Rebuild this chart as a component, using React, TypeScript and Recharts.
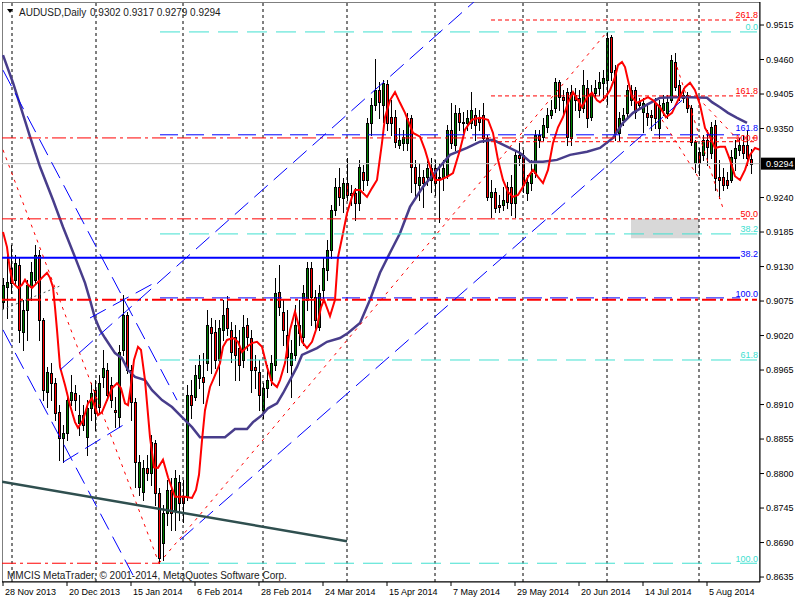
import React from 'react';
import { ComposedChart, Bar, Line, XAxis, YAxis, ReferenceLine, ReferenceArea } from 'recharts';

const FONT = 'Liberation Sans, Arial, sans-serif';

// ---- daily OHLC (AUDUSD, 28 Nov 2013 .. 20 Aug 2014), bar index = position ----
const openP = [0.9074,0.9097,0.9127,0.9108,0.9132,0.9026,0.9061,0.9097,0.9108,0.9148,0.9045,0.8930,0.8960,0.8944,0.8898,0.8856,0.8864,0.8917,0.8928,0.8880,0.8893,0.8858,0.8904,0.8933,0.8906,0.8954,0.8965,0.8941,0.8901,0.8890,0.8997,0.9053,0.8965,0.8914,0.8779,0.8771,0.8809,0.8801,0.8848,0.8769,0.8689,0.8737,0.8774,0.8742,0.8787,0.8763,0.8763,0.8925,0.8922,0.8952,0.8954,0.8976,0.9034,0.9026,0.8981,0.9029,0.9064,0.9029,0.9018,0.9000,0.8981,0.9037,0.9016,0.8970,0.8962,0.8901,0.8936,0.8949,0.8973,0.9090,0.9058,0.9021,0.8973,0.8989,0.9037,0.9018,0.9077,0.9127,0.9082,0.9034,0.9093,0.9124,0.9156,0.9220,0.9257,0.9239,0.9263,0.9247,0.9247,0.9231,0.9281,0.9268,0.9359,0.9387,0.9411,0.9387,0.9421,0.9369,0.9369,0.9324,0.9327,0.9327,0.9367,0.9289,0.9260,0.9273,0.9273,0.9268,0.9287,0.9273,0.9271,0.9276,0.9348,0.9324,0.9374,0.9361,0.9359,0.9359,0.9372,0.9367,0.9372,0.9335,0.9241,0.9249,0.9228,0.9228,0.9257,0.9257,0.9231,0.9308,0.9308,0.9247,0.9263,0.9279,0.9340,0.9337,0.9353,0.9372,0.9382,0.9424,0.9400,0.9408,0.9335,0.9403,0.9398,0.9382,0.9414,0.9369,0.9406,0.9414,0.9422,0.9427,0.9496,0.9443,0.9343,0.9364,0.9374,0.9395,0.9411,0.9392,0.9376,0.9374,0.9372,0.9390,0.9351,0.9379,0.9374,0.9395,0.9456,0.9419,0.9398,0.9403,0.9382,0.9295,0.9313,0.9308,0.9332,0.9311,0.9356,0.9273,0.9273,0.9268,0.9268,0.9303,0.9316,0.9324,0.9324,0.9302];
const highP = [0.9111,0.9151,0.9164,0.9148,0.9143,0.9077,0.9108,0.9137,0.9164,0.9156,0.9048,0.8970,0.8976,0.8952,0.8909,0.8877,0.8925,0.8957,0.8941,0.8925,0.8909,0.8917,0.8944,0.8949,0.8957,0.8997,0.8976,0.8954,0.8922,0.9005,0.9085,0.9058,0.8973,0.8920,0.8829,0.8821,0.8829,0.8861,0.8853,0.8777,0.8750,0.8790,0.8793,0.8806,0.8798,0.8790,0.8941,0.8949,0.8973,0.8989,0.8992,0.9061,0.9048,0.9045,0.9045,0.9077,0.9083,0.9042,0.9037,0.9029,0.9053,0.9048,0.9029,0.8989,0.8981,0.8944,0.8973,0.8989,0.9111,0.9132,0.9077,0.9061,0.9013,0.9069,0.9077,0.9100,0.9137,0.9137,0.9093,0.9100,0.9143,0.9172,0.9228,0.9271,0.9287,0.9271,0.9303,0.9260,0.9255,0.9300,0.9292,0.9367,0.9398,0.9461,0.9424,0.9427,0.9427,0.9395,0.9379,0.9351,0.9348,0.9374,0.9372,0.9300,0.9295,0.9284,0.9300,0.9303,0.9300,0.9295,0.9300,0.9356,0.9390,0.9387,0.9382,0.9376,0.9379,0.9408,0.9382,0.9379,0.9390,0.9340,0.9268,0.9255,0.9244,0.9257,0.9265,0.9276,0.9316,0.9327,0.9316,0.9276,0.9300,0.9348,0.9348,0.9367,0.9382,0.9395,0.9430,0.9427,0.9411,0.9414,0.9419,0.9414,0.9411,0.9443,0.9427,0.9419,0.9427,0.9440,0.9443,0.9504,0.9499,0.9451,0.9376,0.9382,0.9419,0.9419,0.9416,0.9398,0.9398,0.9387,0.9379,0.9398,0.9395,0.9403,0.9403,0.9467,0.9470,0.9427,0.9414,0.9408,0.9387,0.9332,0.9319,0.9340,0.9348,0.9361,0.9364,0.9300,0.9287,0.9281,0.9316,0.9332,0.9335,0.9340,0.9348,0.9317];
const lowP = [0.9064,0.9048,0.9088,0.9100,0.9010,0.8997,0.9013,0.9077,0.9103,0.9013,0.8917,0.8906,0.8917,0.8885,0.8821,0.8818,0.8853,0.8909,0.8901,0.8861,0.8869,0.8829,0.8885,0.8869,0.8896,0.8938,0.8917,0.8906,0.8874,0.8874,0.8989,0.8960,0.8885,0.8779,0.8766,0.8758,0.8790,0.8782,0.8750,0.8657,0.8662,0.8718,0.8710,0.8710,0.8726,0.8723,0.8758,0.8888,0.8917,0.8936,0.8912,0.8965,0.8960,0.8968,0.8941,0.9013,0.9021,0.8978,0.8949,0.8949,0.8970,0.8997,0.8930,0.8936,0.8901,0.8888,0.8922,0.8941,0.8965,0.9053,0.9005,0.8962,0.8922,0.8981,0.9005,0.9005,0.9061,0.9037,0.9029,0.9029,0.9080,0.9108,0.9143,0.9212,0.9228,0.9217,0.9236,0.9228,0.9204,0.9220,0.9252,0.9260,0.9340,0.9379,0.9367,0.9361,0.9348,0.9340,0.9321,0.9319,0.9316,0.9316,0.9249,0.9241,0.9236,0.9225,0.9260,0.9249,0.9244,0.9201,0.9252,0.9271,0.9319,0.9316,0.9348,0.9345,0.9348,0.9351,0.9332,0.9348,0.9329,0.9236,0.9209,0.9217,0.9217,0.9220,0.9223,0.9212,0.9209,0.9292,0.9249,0.9236,0.9252,0.9273,0.9321,0.9332,0.9345,0.9367,0.9376,0.9379,0.9372,0.9324,0.9324,0.9379,0.9369,0.9376,0.9353,0.9364,0.9400,0.9403,0.9395,0.9389,0.9427,0.9332,0.9332,0.9356,0.9367,0.9387,0.9367,0.9382,0.9345,0.9356,0.9348,0.9351,0.9335,0.9372,0.9367,0.9392,0.9411,0.9395,0.9392,0.9376,0.9324,0.9281,0.9276,0.9300,0.9292,0.9303,0.9252,0.9239,0.9252,0.9255,0.9265,0.9284,0.9308,0.9303,0.9292,0.9279];
const closeP = [0.9100,0.9106,0.9103,0.9135,0.9029,0.9061,0.9100,0.9121,0.9148,0.9045,0.8933,0.8962,0.8944,0.8896,0.8856,0.8864,0.8917,0.8930,0.8917,0.8893,0.8877,0.8904,0.8928,0.8896,0.8944,0.8968,0.8925,0.8917,0.8898,0.8994,0.9053,0.8965,0.8914,0.8818,0.8818,0.8809,0.8801,0.8850,0.8769,0.8665,0.8737,0.8774,0.8737,0.8793,0.8753,0.8753,0.8925,0.8909,0.8957,0.8973,0.8946,0.9037,0.9024,0.8981,0.9032,0.9053,0.9032,0.8994,0.8989,0.8973,0.9034,0.9018,0.8965,0.8965,0.8925,0.8936,0.8949,0.8976,0.9088,0.9066,0.9029,0.8986,0.8992,0.9037,0.9024,0.9088,0.9127,0.9082,0.9045,0.9088,0.9127,0.9156,0.9220,0.9257,0.9241,0.9263,0.9244,0.9244,0.9231,0.9289,0.9268,0.9359,0.9387,0.9411,0.9392,0.9422,0.9359,0.9359,0.9329,0.9332,0.9337,0.9367,0.9289,0.9263,0.9273,0.9263,0.9287,0.9287,0.9263,0.9271,0.9287,0.9348,0.9327,0.9374,0.9361,0.9359,0.9367,0.9379,0.9356,0.9361,0.9335,0.9241,0.9249,0.9223,0.9225,0.9236,0.9233,0.9231,0.9308,0.9303,0.9260,0.9265,0.9279,0.9340,0.9332,0.9356,0.9372,0.9379,0.9424,0.9400,0.9395,0.9337,0.9408,0.9395,0.9379,0.9419,0.9367,0.9406,0.9414,0.9424,0.9430,0.9494,0.9440,0.9343,0.9367,0.9372,0.9411,0.9411,0.9376,0.9387,0.9390,0.9369,0.9369,0.9367,0.9387,0.9390,0.9392,0.9459,0.9416,0.9400,0.9403,0.9382,0.9329,0.9329,0.9295,0.9332,0.9321,0.9353,0.9271,0.9268,0.9260,0.9260,0.9305,0.9319,0.9324,0.9311,0.9303,0.9294];

// ---- time axis ----
const xTickIdx = [0, 16, 32, 48, 64, 80, 96, 112, 128, 144, 160, 176];
const xTickLabels = ['28 Nov 2013', '20 Dec 2013', '15 Jan 2014', '6 Feb 2014', '28 Feb 2014', '24 Mar 2014', '15 Apr 2014', '7 May 2014', '29 May 2014', '20 Jun 2014', '14 Jul 2014', '5 Aug 2014'];
const monthGridIdx = [2.25, 23.25, 45, 65, 86, 108, 130, 151, 174];

// ---- price axis ----
const yTicks = [0.8635, 0.8690, 0.8745, 0.8800, 0.8855, 0.8910, 0.8965, 0.9020, 0.9075, 0.9130, 0.9185, 0.9240, 0.9350, 0.9405, 0.9460, 0.9515];
const yDomain = [0.86271, 0.95517];
const lastPrice = 0.9294;

// ---- moving averages (bar index, price) ----
const redMaIdx = [0,1,1.75,2.5,3.75,4.75,5.5,6.25,7.25,8.5,9.75,11,11.75,12.5,13,13.5,14.25,15.5,16.75,18,18.75,20,21.25,22.25,23,23.75,24.75,26,27.25,28.5,29.5,30.5,31.25,32,32.75,33.75,34.5,35.5,36.75,37.75,38.75,40,41.25,43,45.5,47.25,48.25,49,49.75,50.5,51.75,52.5,54.25,55,56,57.5,58.75,59.75,61,62.25,63.5,64.75,66,67.25,68.5,69.25,70.5,71.75,73,73.75,74.75,76,77.25,78.5,79.5,80.25,81.75,83,83.75,85,86,87.25,88,89.25,91,92.25,93.5,94.75,95.5,96.75,98,99.25,100.5,102.5,104.25,105.5,106.75,108,109.25,111,112.5,114.25,115.5,117.25,119.25,121.25,122.5,123.75,125,126.25,127.5,128.75,130,131.25,132.5,133.75,135,136.25,137.5,138.75,140,141.25,142.5,143.75,144.75,146,147.25,148.5,149.25,150.5,151.75,153,153.75,154.75,155.5,156.25,157.25,158.5,159.75,161.25,162.5,164.25,165.75,167.25,168.75,170.5,171.75,173,174.25,175.5,176.75,178,179.25,180.5,181.75,183,184.25,185.5,186.75,188,189.25];
const redMaVal = [0.9185,0.9161,0.9124,0.9104,0.9096,0.9101,0.9109,0.9101,0.9096,0.9104,0.9112,0.9120,0.9112,0.9097,0.9065,0.9029,0.8970,0.8941,0.8909,0.8882,0.8873,0.8885,0.8912,0.8920,0.8906,0.8893,0.8898,0.8917,0.8936,0.8944,0.8936,0.8912,0.8909,0.8941,0.8981,0.9002,0.8997,0.8949,0.8858,0.8810,0.8809,0.8822,0.8794,0.8763,0.8763,0.8761,0.8774,0.8798,0.8853,0.8901,0.8938,0.8949,0.8976,0.9002,0.9013,0.9016,0.9010,0.8994,0.9002,0.9008,0.9010,0.9002,0.8970,0.8945,0.8938,0.8949,0.8976,0.9029,0.9058,0.9040,0.9010,0.9000,0.9010,0.9034,0.9065,0.9077,0.9051,0.9077,0.9145,0.9183,0.9215,0.9241,0.9252,0.9252,0.9241,0.9255,0.9268,0.9327,0.9368,0.9395,0.9408,0.9391,0.9375,0.9343,0.9337,0.9316,0.9289,0.9268,0.9268,0.9273,0.9279,0.9316,0.9348,0.9364,0.9367,0.9364,0.9343,0.9300,0.9268,0.9249,0.9241,0.9244,0.9257,0.9273,0.9284,0.9273,0.9263,0.9284,0.9327,0.9352,0.9368,0.9391,0.9408,0.9395,0.9384,0.9400,0.9407,0.9395,0.9392,0.9399,0.9411,0.9432,0.9451,0.9456,0.9448,0.9427,0.9400,0.9391,0.9395,0.9400,0.9395,0.9384,0.9368,0.9375,0.9395,0.9416,0.9423,0.9411,0.9388,0.9351,0.9337,0.9319,0.9321,0.9321,0.9300,0.9274,0.9268,0.9284,0.9308,0.9319,0.9316];
const blueMaIdx = [0,2.5,6.75,9.25,12.5,15,18,20.5,21.75,23,24.25,25.5,28,29.75,31.25,33,35.5,37.25,39.75,42.25,44.75,47.25,49.25,55.5,58,61,62.5,64.75,66.25,68.5,70,71.75,73.5,74.75,78.5,81,84.25,86.25,89.25,91.75,94.25,96.75,99.25,101.75,105,108.5,111.75,116,119.25,122.5,126,129.25,131.75,135,138.5,141.75,146,149.25,152.5,155,157.5,161,164.25,168,171.75,176,177.25,179.25,181.25,183.5,186];
const blueMaVal = [0.9467,0.9423,0.9337,0.9289,0.9236,0.9193,0.9145,0.9104,0.9077,0.9048,0.9029,0.9016,0.8992,0.8984,0.8965,0.8954,0.8949,0.8933,0.8917,0.8906,0.8890,0.8874,0.8858,0.8858,0.8871,0.8871,0.8882,0.8893,0.8904,0.8912,0.8928,0.8949,0.8970,0.8989,0.9000,0.9010,0.9016,0.9024,0.9040,0.9077,0.9120,0.9152,0.9183,0.9225,0.9257,0.9284,0.9308,0.9319,0.9329,0.9332,0.9321,0.9311,0.9297,0.9297,0.9300,0.9308,0.9313,0.9319,0.9335,0.9359,0.9375,0.9388,0.9399,0.9400,0.9400,0.9399,0.9392,0.9384,0.9375,0.9367,0.9359];

// ---- horizontal objects (levels) ----
const hPrice = [0.9523, 0.9504, 0.9402, 0.9340, 0.9335, 0.9329, 0.9206, 0.9206, 0.9182, 0.9144, 0.9080, 0.9077, 0.8981, 0.8657, 0.8657];
const hFrom = [122, 39.25, 122, 39.25, -0.25, 122, -0.25, 122, 39.25, -0.25, 39.25, -0.25, 39.25, 39.25, -0.25];
const hTo = [188.5, 188.5, 188.5, 184.25, 188.5, 188.5, 122, 188.5, 188.5, 184.25, 184.25, 188.5, 188.5, 188.5, 39.25];
const hKind = ['redDot', 'cyan', 'redDot', 'blueDash', 'redDashDot', 'redDot', 'redDashDot', 'redDot', 'cyan', 'blueSolid', 'blueDash', 'redDashDotThick', 'cyan', 'cyan', 'redDashDot'];
const hLabel = ['261.8', '0.0', '161.8', '161.8', '', '100.0', '', '50.0', '38.2', '38.2', '100.0', '', '61.8', '100.0', ''];
const hLabelRaise = [2, 2, 2, 4, 0, 1, 0, 2, 2, 1, 1, 0, 2, 1, 0];

// ---- diagonal objects (trend lines / channels) ----
const dX1 = [0, 39, 168.5, 164.75, 173.75, 0, 0, 14.25, 44.25, 15, 21.75, -0.25, -0.25];
const dY1 = [0.9316, 0.8657, 0.9448, 0.9364, 0.9399, 0.9443, 0.9029, 0.8965, 0.8694, 0.8818, 0.9048, 0.8787, 0.9061];
const dX2 = [39, 151, 180, 174.25, 183.75, 43.5, 32.5, 117.75, 169.75, 31.25, 38.75, 86, 14.25];
const dY2 = [0.8657, 0.9504, 0.9223, 0.9268, 0.9332, 0.8917, 0.8638, 0.9552, 0.9395, 0.8882, 0.9107, 0.8692, 0.9099];
const dKind = ['redDotDiag', 'redDotDiag', 'redDotDiag', 'redDotDiag', 'redDotDiag', 'blueDiag', 'blueDiag', 'blueDiag', 'blueDiag', 'blueDiag', 'blueDiag', 'slate', 'grayDot'];

// ---- rectangle object ----
const boxIdx = [157, 174];
const boxPrice = [0.9175, 0.9206];

const headerSymbol = 'AUDUSD,Daily';
const headerOHLC = '0.9302 0.9317 0.9279 0.9294';
const copyright = 'MMCIS MetaTrader, \u00A9 2001-2014, MetaQuotes Software Corp.';

type St = { stroke: string; width: number; dash?: string; label?: string; labelDx?: number };
const STYLE: Record<string, St> = {
  redDot: { stroke: '#ff0000', width: 1, dash: '4 3', label: '#ff0000', labelDx: 1 },
  cyan: { stroke: '#40e0d0', width: 1, dash: '20 9', label: '#40e0d0', labelDx: 1 },
  blueDash: { stroke: '#0000ff', width: 1, dash: '18 8', label: '#0000ff', labelDx: 18 },
  blueSolid: { stroke: '#0000ff', width: 2, label: '#0000ff', labelDx: 18 },
  redDashDot: { stroke: '#ff0000', width: 1, dash: '14 4 3 4' },
  redDashDotThick: { stroke: '#ff0000', width: 2, dash: '14 4 3 4' },
  redDotDiag: { stroke: '#ff0000', width: 1, dash: '3 5' },
  blueDiag: { stroke: '#0000ff', width: 1, dash: '18 8' },
  slate: { stroke: '#2f4f4f', width: 2.5 },
  grayDot: { stroke: '#4a5a5a', width: 1, dash: '2 3' },
};

const candles = openP.map((o, i) => ({
  i,
  open: o,
  high: highP[i],
  low: lowP[i],
  close: closeP[i],
  range: [lowP[i], highP[i]],
}));
const redMa = redMaIdx.map((i, k) => ({ i, v: redMaVal[k] }));
const blueMa = blueMaIdx.map((i, k) => ({ i, v: blueMaVal[k] }));

const Candle = (props: any) => {
  const { x, y, width, height, payload } = props;
  if (x == null || y == null || !payload) return null;
  const top = Math.min(y, y + height);
  const h = Math.abs(height);
  const span = payload.high - payload.low;
  const k = span > 0 ? h / span : 0;
  const cx = Math.round(x + width / 2);
  const yO = top + (payload.high - payload.open) * k;
  const yC = top + (payload.high - payload.close) * k;
  const bTop = Math.round(Math.min(yO, yC));
  const bBot = Math.round(Math.max(yO, yC));
  const up = payload.close >= payload.open;
  return (
    <g>
      <line x1={cx + 0.5} x2={cx + 0.5} y1={Math.round(top)} y2={Math.round(top + h) + 1} stroke="#000" strokeWidth={1} />
      <rect x={cx - 0.5} y={bTop + 0.5} width={2} height={Math.max(bBot - bTop, 1)} fill={up ? '#008000' : '#ff0000'} stroke="#000" strokeWidth={1} />
    </g>
  );
};

const XTick = (props: any) => {
  const { x, y, payload } = props;
  const k = xTickIdx.indexOf(payload.value);
  return (
    <text x={x + 2} y={y + 9} textAnchor="start" fill="#000" fontSize={9} fontFamily={FONT}>
      {k >= 0 ? xTickLabels[k] : ''}
    </text>
  );
};

const makeLevelLabel = (text: string, color: string, dx: number, raise: number) => (p: any) => {
  const vb = p.viewBox || {};
  return (
    <text x={vb.x + vb.width + dx} y={vb.y - raise} textAnchor="end" fill={color} fontSize={9} fontFamily={FONT}>
      {text}
    </text>
  );
};

const PriceTag = (p: any) => {
  const vb = p.viewBox || {};
  const rx = vb.x + vb.width + 1;
  return (
    <g>
      <rect x={rx} y={vb.y - 6} width={34} height={12} fill="#000" />
      <text x={rx + 5} y={vb.y + 3.5} fill="#fff" fontSize={9} fontFamily={FONT}>
        {lastPrice.toFixed(4)}
      </text>
    </g>
  );
};

export default function App() {
  return (
    <div style={{ position: 'absolute', left: 0, top: 0, width: 800, height: 600, background: '#fff' }}>
      <ComposedChart width={800} height={600} data={candles} margin={{ top: 2, right: 0, bottom: 0, left: 2 }}>
        <XAxis
          dataKey="i"
          type="number"
          domain={[-0.25, 189.25]}
          allowDataOverflow
          ticks={xTickIdx}
          interval={0}
          tick={<XTick />}
          tickSize={4}
          tickMargin={0}
          tickLine={{ stroke: '#000' }}
          axisLine={{ stroke: '#000' }}
          height={18}
        />
        <YAxis
          orientation="right"
          type="number"
          domain={yDomain}
          allowDataOverflow
          ticks={yTicks}
          interval={0}
          tickFormatter={(v: number) => v.toFixed(4)}
          width={40}
          tickSize={4}
          tickMargin={2}
          tick={{ fill: '#000', fontSize: 9, fontFamily: FONT }}
          tickLine={{ stroke: '#000' }}
          axisLine={{ stroke: '#000' }}
        />
        <ReferenceArea x1={boxIdx[0]} x2={boxIdx[1]} y1={boxPrice[0]} y2={boxPrice[1]} fill="#d8d8d8" fillOpacity={1} stroke="none" ifOverflow="hidden" />
        {monthGridIdx.map((g) => (
          <ReferenceLine key={'g' + g} x={g} stroke="#000" strokeDasharray="3 3" strokeWidth={1} />
        ))}
        <ReferenceLine y={lastPrice} stroke="#c0c0c0" strokeWidth={1} label={PriceTag} />
        <Bar dataKey="range" barSize={4} shape={Candle} isAnimationActive={false} />
        <Line data={blueMa} dataKey="v" type="linear" stroke="#483d8b" strokeWidth={2.5} dot={false} activeDot={false} isAnimationActive={false} />
        <Line data={redMa} dataKey="v" type="linear" stroke="#ff0000" strokeWidth={2} dot={false} activeDot={false} isAnimationActive={false} />
        {hPrice.map((p, k) => {
          const s = STYLE[hKind[k]];
          return (
            <ReferenceLine
              key={'h' + k}
              segment={[{ x: hFrom[k], y: p }, { x: hTo[k], y: p }]}
              stroke={s.stroke}
              strokeWidth={s.width}
              strokeDasharray={s.dash}
              ifOverflow="hidden"
              label={hLabel[k] ? makeLevelLabel(hLabel[k], s.label || s.stroke, s.labelDx || 1, hLabelRaise[k]) : undefined}
            />
          );
        })}
        {dX1.map((x1, k) => {
          const s = STYLE[dKind[k]];
          return (
            <ReferenceLine
              key={'d' + k}
              segment={[{ x: x1, y: dY1[k] }, { x: dX2[k], y: dY2[k] }]}
              stroke={s.stroke}
              strokeWidth={s.width}
              strokeDasharray={s.dash}
              ifOverflow="hidden"
            />
          );
        })}
        <ReferenceArea x1={-0.25} x2={189.25} y1={yDomain[0]} y2={yDomain[1]} fill="none" stroke="#000" strokeWidth={1} ifOverflow="hidden" />
      </ComposedChart>
      <svg width={800} height={600} style={{ position: 'absolute', left: 0, top: 0, pointerEvents: 'none' }}>
        <polygon points="7,9 13,9 10,13" fill="#000" />
        <text x={19} y={16} fontSize={10} fontFamily={FONT} fill="#1a1a1a">{headerSymbol}</text>
        <text x={90} y={16} fontSize={10} fontFamily={FONT} fill="#1a1a1a">{headerOHLC}</text>
        <text x={7} y={579} fontSize={10} fontFamily={FONT} fill="#1a1a1a">{copyright}</text>
      </svg>
    </div>
  );
}
